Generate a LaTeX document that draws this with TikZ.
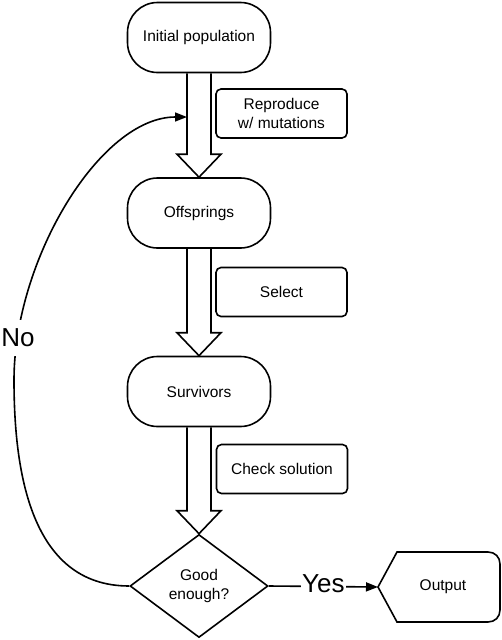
\documentclass[tikz,border=0pt]{standalone}
\usepackage{fontspec}
\setmainfont{Liberation Sans}
\usetikzlibrary{shapes.geometric,arrows.meta,calc}
\newcommand\hollowarrow[2]{%
  \draw[hollow] ($(#1.south)+(-12,0)$) -- ($(#2.north)+(-12,-23)$) -- ($(#2.north)+(-22,-23)$)
    -- (#2.north) -- ($(#2.north)+(22,-23)$) -- ($(#2.north)+(12,-23)$) -- ($(#1.south)+(12,0)$);}
\begin{document}
\begin{tikzpicture}[x=1pt,y=-1pt,
  every node/.style={font=\fontsize{15.5}{19}\selectfont},
  line width=1.6pt,
  stage/.style={draw, rectangle, rounded corners=30pt, minimum width=143pt, minimum height=70pt, inner sep=0pt},
  note/.style={draw, rectangle, rounded corners=5pt, minimum width=131pt, minimum height=49pt, inner sep=0pt, align=center},
  decision/.style={draw, diamond, aspect=1.34, minimum width=138pt, minimum height=103pt, inner sep=0pt, align=center},
  biglabel/.style={font=\fontsize{26}{30}\selectfont, fill=white},
  hollow/.style={draw, line join=miter},
  tip/.style={-{Triangle[length=12pt,width=9pt]}}
]
\useasboundingbox (0,0) rectangle (502,640);

\node[stage] (init) at (199,37.5) {Initial population};
\node[stage] (off) at (199,213) {Offsprings};
\node[stage] (surv) at (199,391.5) {Survivors};
\node[decision] (good) at (199,586) {Good\\enough?};

\node[note] (repro) at (281.5,113.5) {Reproduce\\w/ mutations};
\node[note] (sel) at (281.5,292) {Select};
\node[note] (check) at (282,469) {Check solution};

\hollowarrow{init}{off}
\hollowarrow{off}{surv}
\hollowarrow{surv}{good}

% Output shape
\coordinate (outtip) at (378,587);
\draw (outtip) -- (397,552) -- (488,552) .. controls (495,552) and (500,557) .. (500,564)
  -- (500,610) .. controls (500,617) and (495,622) .. (488,622) -- (397,622) -- cycle;
\node (out) at (443,587) {Output};

% Yes connector
\draw[tip] (good.east) -- node[biglabel, inner sep=1pt, yshift=3pt] (yes) {Yes} (outtip);

% No connector
\coordinate (noend) at (187,117);
\draw[tip] (good.west) .. controls (30,586) and (14,470) .. (14,380)
  .. controls (14,260) and (100,117) .. (noend);
\node[biglabel, inner xsep=1pt, inner ysep=9pt] (no) at (18,338) {No};
\end{tikzpicture}
\end{document}
